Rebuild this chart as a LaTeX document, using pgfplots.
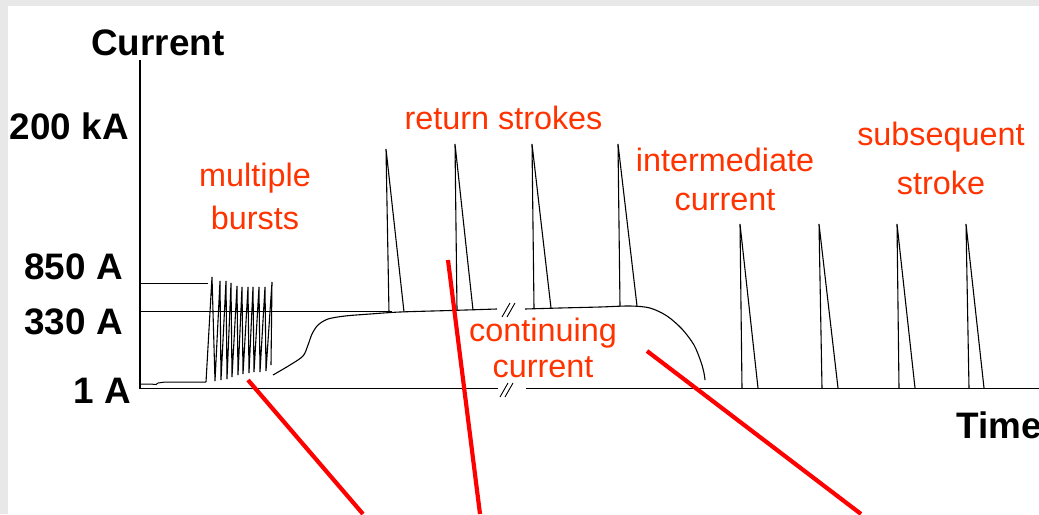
\documentclass[border=0pt]{standalone}
\usepackage{fontspec}
\setmainfont{Liberation Sans}
\usepackage{pgfplots}
\pgfplotsset{compat=1.18}
\definecolor{graybg}{RGB}{232,232,232}
\definecolor{lbl}{RGB}{255,51,0}
\newcommand{\bigb}{\fontsize{37}{42}\selectfont\bfseries}
\newcommand{\lab}{\fontsize{32.5}{38}\selectfont\color{lbl}}
\begin{document}
\begin{tikzpicture}
\begin{axis}[
  width=1039bp, height=514bp, scale only axis,
  xmin=0, xmax=1039, ymin=0, ymax=514, y dir=reverse,
  hide axis, clip=true,
  axis background/.style={fill=graybg},
]
\coordinate (SW) at (axis cs:0,514);
\coordinate (NE) at (axis cs:1039,0);
% white slide area
\addplot[draw=none, fill=white] coordinates {(8,6) (1039,6) (1039,514) (8,514)} --cycle;

% axes
\addplot[black, line width=1.2pt] coordinates {(140,60) (140,389)};
\addplot[black, line width=1.2pt] coordinates {(140,388.5) (498,388.5)};
\addplot[black, line width=1.2pt] coordinates {(526,388.5) (1039,388.5)};
% break marks
\addplot[black, line width=0.9pt] coordinates {(500,397) (508,383)};
\addplot[black, line width=0.9pt] coordinates {(505,397) (513,383)};
\addplot[black, line width=0.9pt] coordinates {(502,317) (510,303)};
\addplot[black, line width=0.9pt] coordinates {(507,317) (515,303)};

% reference levels
\addplot[black, line width=1pt] coordinates {(140,283) (208,283)};
\addplot[black, line width=1pt] coordinates {(140,311) (392,311)};

% baseline before bursts
\addplot[black, line width=1pt] coordinates {(141,384) (150,384) (156,384.5) (158,383) (165,382) (206,382)};

% multiple bursts
\addplot[black, line width=1.1pt] coordinates {
(206,382) (212,277) (215,381) (220,281) (221,380) (226,281) (227,379) (231,283)
(232,377) (237,286) (238,375) (242,287) (243,374) (248,287) (249,373) (253,287)
(254,372) (259,287) (260,372) (265,287) (266,371) (272,282) (271,365)};

% continuing current
\addplot[black, line width=1.1pt, smooth, tension=0.5] coordinates {
(273,375) (290,365) (303,356) (308,345) (312,334) (318,325) (328,319) (345,316)
(370,314) (400,312) (450,310.5) (497,309)};
\addplot[black, line width=1.1pt, smooth, tension=0.5] coordinates {
(525,309) (560,308) (600,307) (630,306) (650,308) (667,316) (682,329) (694,345)
(701,362) (704,373) (705,380)};

% return strokes
\addplot[black, line width=1.1pt] coordinates {(389,313) (386,149) (404,312)};
\addplot[black, line width=1.1pt] coordinates {(457,310) (455,144) (473,310)};
\addplot[black, line width=1.1pt] coordinates {(534,308) (532,144) (551,308)};
\addplot[black, line width=1.1pt] coordinates {(620,306) (618,144) (637,306)};

% subsequent strokes
\addplot[black, line width=1.1pt] coordinates {(742,388) (740,224) (758,388)};
\addplot[black, line width=1.1pt] coordinates {(822,388) (819,224) (838,388)};
\addplot[black, line width=1.1pt] coordinates {(899,388) (897,224) (915,388)};
\addplot[black, line width=1.1pt] coordinates {(969,388) (966,224) (984,388)};

% red pointer lines
\addplot[red, line width=4.2pt] coordinates {(248,380) (363,514)};
\addplot[red, line width=4.2pt] coordinates {(448,260) (480,514)};
\addplot[red, line width=4.2pt] coordinates {(647,351) (861,514)};

% black labels
\node[anchor=base west, inner sep=0pt] at (axis cs:91,56) {\bigb Current};
\node[anchor=base east, inner sep=0pt] at (axis cs:129,139) {\bigb 200 kA};
\node[anchor=base east, inner sep=0pt] at (axis cs:123,279) {\bigb 850 A};
\node[anchor=base east, inner sep=0pt] at (axis cs:123,334) {\bigb 330 A};
\node[anchor=base east, inner sep=0pt] at (axis cs:131,403) {\bigb 1 A};
\node[anchor=base west, inner sep=0pt] at (axis cs:956,438) {\bigb Time};

% red labels
\node[anchor=base, inner sep=0pt] at (axis cs:255,186) {\lab multiple};
\node[anchor=base, inner sep=0pt] at (axis cs:255,229) {\lab bursts};
\node[anchor=base, inner sep=0pt] at (axis cs:503.5,129) {\lab return strokes};
\node[anchor=base, inner sep=0pt] at (axis cs:725,171) {\lab intermediate};
\node[anchor=base, inner sep=0pt] at (axis cs:725,210) {\lab current};
\node[anchor=base, inner sep=0pt] at (axis cs:941,145) {\lab subsequent};
\node[anchor=base, inner sep=0pt] at (axis cs:941,194) {\lab stroke};
\node[anchor=base, inner sep=0pt] at (axis cs:543,341) {\lab continuing};
\node[anchor=base, inner sep=0pt] at (axis cs:543,377) {\lab current};
\end{axis}
\pgfresetboundingbox
\useasboundingbox (SW) rectangle (NE);
\end{tikzpicture}
\end{document}
